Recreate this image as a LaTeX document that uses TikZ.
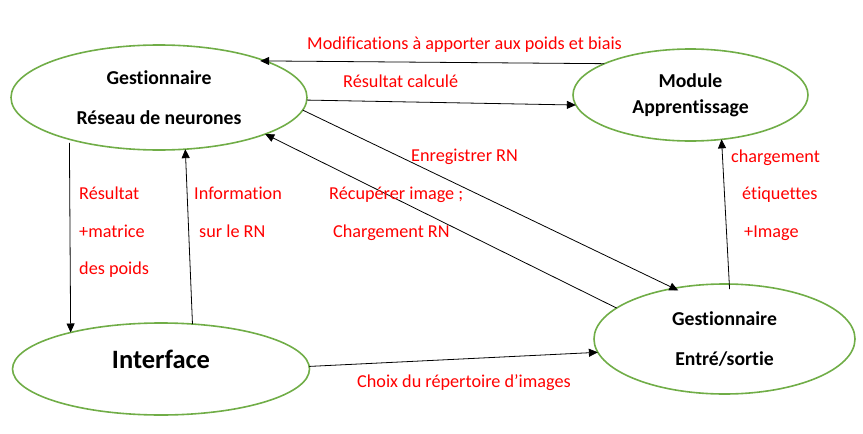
\documentclass[tikz,border=0pt]{standalone}
\usepackage{fontspec}
\setmainfont{Carlito}[Ligatures=NoCommon]
\usetikzlibrary{shapes.geometric,arrows.meta}
\definecolor{ellgreen}{HTML}{70AD47}
\definecolor{lblred}{HTML}{FF0000}
\begin{document}
\begin{tikzpicture}[x=1pt,y=-1pt,
  ell/.style={draw=ellgreen,line width=1.6pt,ellipse,inner sep=0pt,outer sep=0pt,align=center,font=\fontsize{19.7}{40}\selectfont\bfseries},
  lbl/.style={text=lblred,font=\fontsize{18.2}{22}\selectfont,inner sep=0pt,anchor=base west},
  conn/.style={draw=black,line width=0.8pt,-{Triangle[length=9pt,width=8pt]}}]
\useasboundingbox (0,0) rectangle (863,434);
% ellipses
\node[ell,minimum width=296pt,minimum height=105pt] (e1) at (159,97.5) {Gestionnaire\\Réseau de neurones};
\node[ell,minimum width=235pt,minimum height=92pt,font=\fontsize{19.7}{26}\selectfont\bfseries] (e2) at (690.5,95) {Module\\Apprentissage};
\node[ell,minimum width=297pt,minimum height=92pt,font=\fontsize{26.5}{30}\selectfont\bfseries,text depth=20pt] (e3) at (161,369) {Interface};
\node[ell,minimum width=261pt,minimum height=110pt] (e4) at (724.5,339) {Gestionnaire\\Entré/sortie};
% connectors
\draw[conn,shorten >=-5pt] (e2.160.5) -- (e1.19.75);
\draw[conn] (e1.359.4) -- (e2.185.3);
\draw[conn,shorten >=-5pt] (e1.355.9) -- (e4.135.8);
\draw[conn] (e4.164.5) -- (e1.341.7);
\draw[conn,shorten <=3.5pt] (e1.205.2) -- (e3.158);
\draw[conn] (e3.55.2) -- (e1.297.3);
\draw[conn,shorten <=-5pt] (e4.85.7) -- (e2.305.2);
\draw[conn] (e3.1.5) -- (e4.186.8);
% labels
\node[lbl] (l1) at (307,49) {Modifications à apporter aux poids et biais};
\node[lbl] (l2) at (343,87) {Résultat calculé};
\node[lbl] (l3) at (411,161) {Enregistrer RN};
\node[lbl] (l4) at (329,199) {Récupérer image ;};
\node[lbl] (l5) at (333,237) {Chargement RN};
\node[lbl] (l6) at (79,199) {Résultat};
\node[lbl] (l7) at (79,237) {+matrice};
\node[lbl] (l8) at (79,274) {des poids};
\node[lbl] (l9) at (194,199) {Information};
\node[lbl] (l10) at (199,237) {sur le RN};
\node[lbl] (l11) at (731,162) {chargement};
\node[lbl] (l12) at (742,199) {étiquettes};
\node[lbl] (l13) at (744,237) {+Image};
\node[lbl] (l14) at (357,387) {Choix du répertoire d’images};
\end{tikzpicture}
\end{document}
